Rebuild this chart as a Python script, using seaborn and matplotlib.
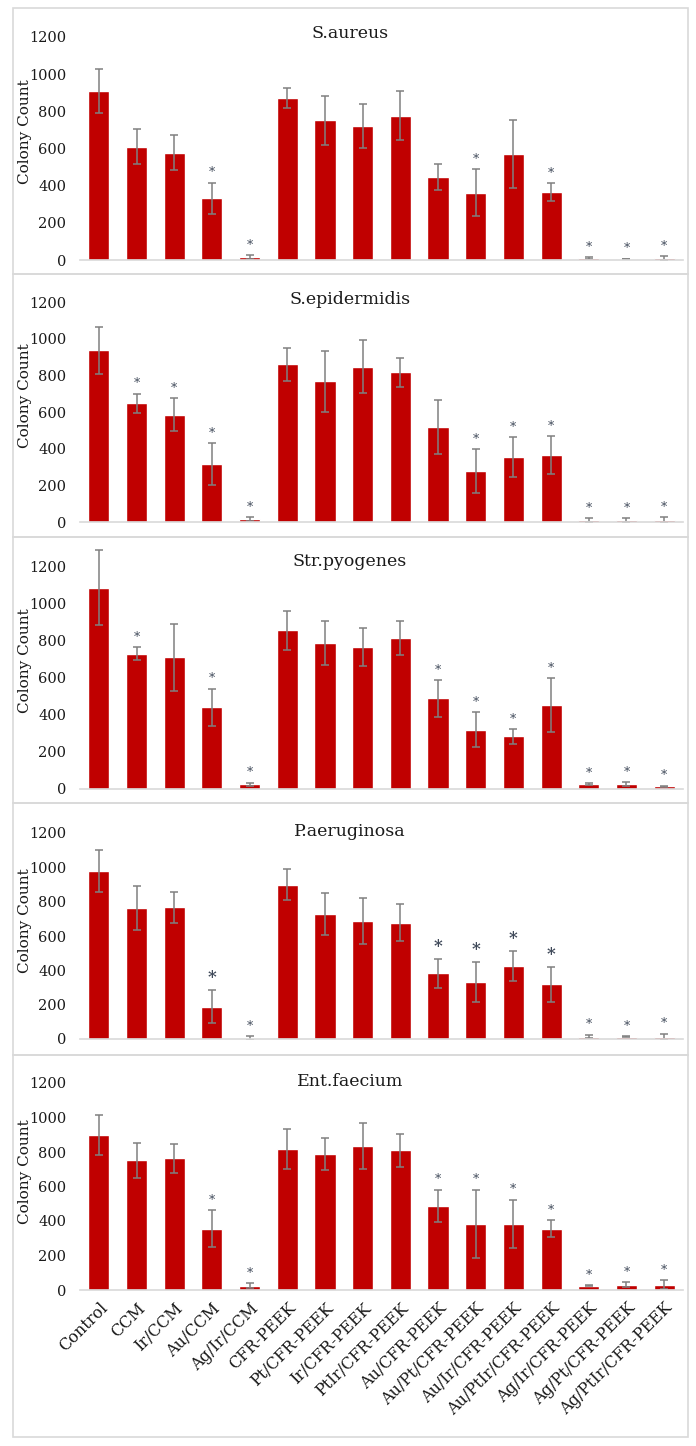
import matplotlib
matplotlib.use("Agg")
import matplotlib.pyplot as plt
import seaborn as sns
import pandas as pd
from matplotlib.patches import Rectangle

categories = ["Control", "CCM", "Ir/CCM", "Au/CCM", "Ag/Ir/CCM", "CFR-PEEK",
              "Pt/CFR-PEEK", "Ir/CFR-PEEK", "PtIr/CFR-PEEK", "Au/CFR-PEEK",
              "Au/Pt/CFR-PEEK", "Au/Ir/CFR-PEEK", "Au/PtIr/CFR-PEEK",
              "Ag/Ir/CFR-PEEK", "Ag/Pt/CFR-PEEK", "Ag/PtIr/CFR-PEEK"]

titles = ["S.aureus", "S.epidermidis", "Str.pyogenes", "P.aeruginosa", "Ent.faecium"]

aureus_mean = [910, 609, 578, 333, 16, 872, 752, 722, 776, 446, 362, 571, 367, 11, 5, 9]
aureus_err = [120, 95, 95, 83, 9, 54, 131, 118, 132, 72, 125, 181, 48, 3, 2, 10]
aureus_sig = [0, 0, 0, 1, 1, 0, 0, 0, 0, 0, 1, 0, 1, 1, 1, 1]

epid_mean = [936, 647, 585, 317, 16, 861, 768, 848, 817, 518, 279, 352, 365, 11, 11, 11]
epid_err = [129, 53, 91, 113, 11, 90, 166, 146, 78, 146, 120, 109, 104, 11, 11, 16]
epid_sig = [0, 1, 1, 1, 1, 0, 0, 0, 0, 0, 1, 1, 1, 1, 1, 1]

pyog_mean = [1083, 728, 710, 439, 25, 854, 787, 762, 813, 488, 319, 283, 452, 25, 25, 14]
pyog_err = [203, 34, 180, 101, 9, 106, 118, 102, 93, 100, 95, 41, 143, 6, 11, 4]
pyog_sig = [0, 1, 0, 1, 1, 0, 0, 0, 0, 1, 1, 1, 1, 1, 1, 1]

aerug_mean = [978, 762, 768, 189, 8, 899, 729, 685, 677, 383, 333, 424, 319, 14, 14, 14]
aerug_err = [121, 128, 90, 97, 11, 89, 123, 134, 109, 84, 115, 87, 103, 11, 3, 17]
aerug_sig = [0, 0, 0, 1, 1, 0, 0, 0, 0, 1, 1, 1, 1, 1, 1, 1]

faec_mean = [899, 752, 763, 356, 25, 816, 788, 835, 810, 487, 383, 383, 356, 25, 31, 31]
faec_err = [115, 100, 83, 108, 14, 116, 91, 135, 97, 95, 199, 141, 50, 4, 13, 27]
faec_sig = [0, 0, 0, 1, 1, 0, 0, 0, 0, 1, 1, 1, 1, 1, 1, 1]

means = [aureus_mean, epid_mean, pyog_mean, aerug_mean, faec_mean]
errs = [aureus_err, epid_err, pyog_err, aerug_err, faec_err]
sigs = [aureus_sig, epid_sig, pyog_sig, aerug_sig, faec_sig]

sns.set_theme(style="white")
plt.rcParams['font.family'] = ['DejaVu Serif', 'DejaVu Sans']

W, H = 696, 1446
fig = plt.figure(figsize=(W / 100, H / 100), dpi=100)

# pixel layout: (y of 1200 tick, y of 0)
axes_px = [(37, 260), (302, 522), (566, 789), (833, 1039), (1083, 1290)]
boxes_px = [(8, 274), (274, 537), (537, 803), (803, 1055), (1055, 1437)]
title_px = [33, 299, 562, 832, 1082]
x0, x1 = 80, 683
bar_color = "#C00000"
YTOP = 1300

for i in range(5):
    b0, b1 = boxes_px[i]
    fig.patches.append(Rectangle((13 / W, 1 - b1 / H), (688 - 13) / W, (b1 - b0) / H,
                                 transform=fig.transFigure, fill=False,
                                 edgecolor="#d9d9d9", linewidth=1.2))
    y1200, y0 = axes_px[i]
    span = (y0 - y1200) * YTOP / 1200
    ax = fig.add_axes([x0 / W, 1 - y0 / H, (x1 - x0) / W, span / H])
    df = pd.DataFrame({"cat": categories, "val": means[i]})
    sns.barplot(data=df, x="cat", y="val", color=bar_color, saturation=1,
                width=0.56, ax=ax, order=categories)
    ax.errorbar(range(len(categories)), means[i], yerr=errs[i], fmt="none",
                ecolor="#808080", elinewidth=1.1, capsize=2.6, capthick=1.1)
    for j, s in enumerate(sigs[i]):
        if s:
            big = (i == 3 and 3 <= j <= 12 and j != 4)
            ax.annotate("*", (j, means[i][j] + errs[i][j]), xytext=(0, 9 if big else 7),
                        textcoords="offset points", ha="center", va="center",
                        fontsize=12 if big else 9, color="#404a5a",
                        fontweight="bold" if big else "normal")
    ax.set_xlim(-0.5, len(categories) - 0.5)
    ax.set_ylim(0, YTOP)
    ax.set_yticks(range(0, 1201, 200))
    ax.tick_params(axis="y", length=0, pad=10, labelsize=10.5, labelcolor="#1a1a1a")
    ax.tick_params(axis="x", length=0)
    ax.set_xlabel("")
    ax.set_ylabel("Colony Count", fontsize=11, color="#1a1a1a")
    ax.yaxis.set_label_coords(-0.079, 0.53)
    for sp in ["top", "right", "left"]:
        ax.spines[sp].set_visible(False)
    ax.spines["bottom"].set_color("#d9d9d9")
    ax.spines["bottom"].set_linewidth(1.2)
    ax.patch.set_alpha(0)
    if i < 4:
        ax.set_xticklabels([])
    else:
        ax.set_xticks(range(len(categories)))
        ax.set_xticklabels(categories, rotation=45, ha="right", va="top",
                           rotation_mode="anchor", fontsize=11.5, color="#1a1a1a")
        ax.tick_params(axis="x", pad=7)
    fig.text(350 / W, 1 - title_px[i] / H, titles[i], ha="center", va="center",
             fontsize=12.5, color="#1a1a1a")

fig.savefig("out.png", dpi=100)
